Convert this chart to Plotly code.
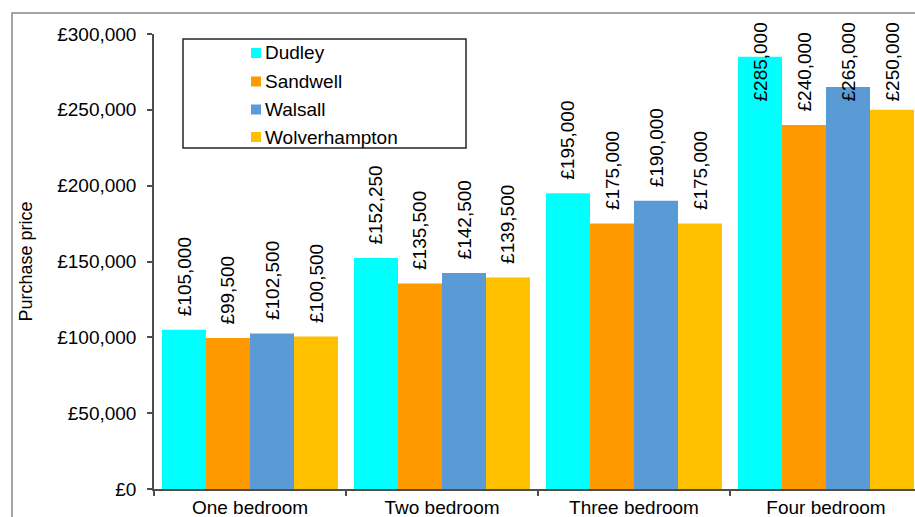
import plotly.graph_objects as go

# ---- data -------------------------------------------------------------
categories = ["One bedroom", "Two bedroom", "Three bedroom", "Four bedroom"]
series_names = ["Dudley", "Sandwell", "Walsall", "Wolverhampton"]
dudley = [105000, 152250, 195000, 285000]
sandwell = [99500, 135500, 175000, 240000]
walsall = [102500, 142500, 190000, 265000]
wolverhampton = [100500, 139500, 175000, 250000]
y_tick_values = [0, 50000, 100000, 150000, 200000, 250000, 300000]
y_tick_labels = ["£0", "£50,000", "£100,000", "£150,000", "£200,000", "£250,000", "£300,000"]

series_values = [dudley, sandwell, walsall, wolverhampton]
colors = ["#00FFFF", "#FF9900", "#5B9BD5", "#FFC000"]

# ---- layout geometry (pixels) ----------------------------------------
W, H = 915, 517
M_L, M_R, M_T, M_B = 154, 0, 34, 28
PLOT_W = W - M_L - M_R
PLOT_H = H - M_T - M_B
Y_MAX = 300000
CAT_PX = 192                      # width of one category slot
BARGAP = 16 / CAT_PX
FONT = "Liberation Sans, Arial, sans-serif"
FS = 19


def px_x(px):
    return (px - M_L) / PLOT_W


def px_y(py):
    return (H - M_B - py) / PLOT_H


fig = go.Figure()
for name, vals, col in zip(series_names, series_values, colors):
    fig.add_trace(go.Bar(
        x=categories, y=vals, name=name,
        marker=dict(color=col, line=dict(width=0)),
        showlegend=False,
    ))

# ---- value labels (rotated, above each bar; pushed down near the top) --
n = len(series_names)
bar_w = (1 - BARGAP) / n
LABEL_GAP = 12
TOP_LIMIT = 22
annotations = []
for j, vals in enumerate(series_values):
    for i, v in enumerate(vals):
        text = f"£{v:,}"
        xpos = i + (j - (n - 1) / 2) * bar_w
        bar_top_px = M_T + (Y_MAX - v) / Y_MAX * PLOT_H
        est_len = 10.2 * len(text)
        common = dict(x=xpos, xref="x", text=text, textangle=-90, showarrow=False,
                      font=dict(family=FONT, size=FS, color="#000000"),
                      xanchor="center", borderpad=0)
        if bar_top_px - LABEL_GAP - est_len < TOP_LIMIT:
            annotations.append(dict(y=px_y(TOP_LIMIT), yref="paper", yanchor="top", **common))
        else:
            annotations.append(dict(y=v, yref="y", yanchor="bottom", yshift=LABEL_GAP, **common))

# ---- legend box ---------------------------------------------------------
shapes = []
LEG_L, LEG_R, LEG_T, LEG_B = 183, 466, 39, 148
shapes.append(dict(type="rect", xref="paper", yref="paper",
                   x0=px_x(LEG_L), x1=px_x(LEG_R), y0=px_y(LEG_B), y1=px_y(LEG_T),
                   line=dict(color="#262626", width=1.5), fillcolor="white", layer="above"))
row_y = [53, 81.5, 109.5, 137]
for name, col, ry in zip(series_names, colors, row_y):
    shapes.append(dict(type="rect", xref="paper", yref="paper",
                       x0=px_x(251), x1=px_x(261), y0=px_y(ry + 5), y1=px_y(ry - 5),
                       line=dict(width=0), fillcolor=col, layer="above"))
    annotations.append(dict(x=px_x(263), y=px_y(ry), xref="paper", yref="paper",
                            text=name, showarrow=False, xanchor="left", yanchor="middle",
                            font=dict(family=FONT, size=FS, color="#000000")))

# ---- outer chart frame (partly beyond the page edge) -------------------
shapes.append(dict(type="rect", xref="paper", yref="paper",
                   x0=px_x(12), x1=px_x(W + 20), y0=px_y(H + 20), y1=px_y(13),
                   line=dict(color="#888888", width=1.5), fillcolor="rgba(0,0,0,0)",
                   layer="below"))

fig.update_layout(
    width=W, height=H,
    margin=dict(l=M_L, r=M_R, t=M_T, b=M_B, autoexpand=False),
    paper_bgcolor="white", plot_bgcolor="white",
    barmode="group", bargap=BARGAP, bargroupgap=0,
    showlegend=False,
    font=dict(family=FONT, size=FS, color="#000000"),
    annotations=annotations,
    shapes=shapes,
)
fig.update_xaxes(
    type="category", range=[-0.5, -0.5 + PLOT_W / CAT_PX],
    showline=True, linecolor="#4d4d4d", linewidth=1.5,
    ticks="outside", tickson="boundaries", ticklen=5, tickcolor="#4d4d4d", tickwidth=1.5,
    showgrid=False, zeroline=False,
    tickfont=dict(family=FONT, size=FS, color="#000000"),
    ticklabelstandoff=0,
    automargin=False,
)
fig.update_yaxes(
    range=[0, Y_MAX], tickvals=y_tick_values, ticktext=y_tick_labels,
    showline=True, linecolor="#4d4d4d", linewidth=1.5,
    ticks="outside", ticklen=5, tickcolor="#4d4d4d", tickwidth=1.5,
    showgrid=False, zeroline=False,
    tickfont=dict(family=FONT, size=FS, color="#000000"),
    ticklabelstandoff=7,
    title=dict(text="Purchase price", font=dict(family=FONT, size=18, color="#000000"),
               standoff=20),
    automargin=False,
)

fig.write_html("out.html")
